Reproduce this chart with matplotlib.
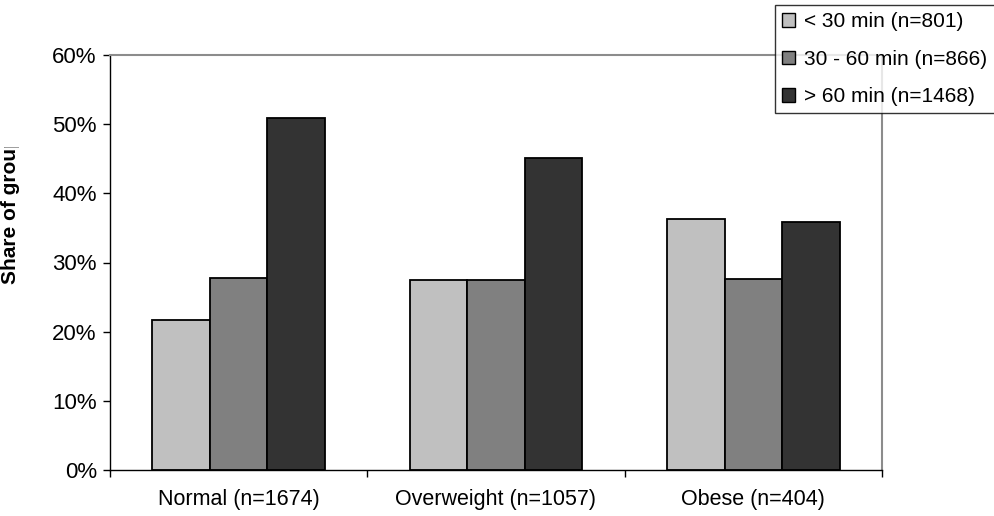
import matplotlib
matplotlib.use('Agg')
import matplotlib.pyplot as plt
import numpy as np
from matplotlib.patches import Patch
from matplotlib.transforms import Bbox, TransformedBbox
from matplotlib.ticker import FixedLocator, PercentFormatter

plt.rcParams['font.family'] = ['Liberation Sans', 'DejaVu Sans']

# data
groups = ['Normal (n=1674)', 'Overweight (n=1057)', 'Obese (n=404)']
series = ['< 30 min (n=801)', '30 - 60 min (n=866)', '> 60 min (n=1468)']
short_commute = [21.7, 27.4, 36.3]
mid_commute = [27.8, 27.4, 27.6]
long_commute = [50.9, 45.1, 35.8]
colors = ['#c0c0c0', '#808080', '#333333']

fig = plt.figure(figsize=(9.95, 5.16), dpi=100)
ax = fig.add_axes([110/995, 46/516, 772/995, 415/516])

x = np.arange(len(groups))
w = 0.2235
for i, (vals, c) in enumerate(zip([short_commute, mid_commute, long_commute], colors)):
    ax.bar(x + (i - 1) * w, vals, width=w, color=c, edgecolor='black', linewidth=1.3)

ax.set_xlim(-0.5, 2.5)
ax.set_ylim(0, 60)
ax.set_yticks(np.arange(0, 61, 10))
ax.yaxis.set_major_formatter(PercentFormatter(decimals=0))
ax.tick_params(axis='y', direction='out', length=5, width=1, pad=4.5, labelsize=16)

ax.set_xticks(x)
ax.set_xticklabels(groups)
ax.tick_params(axis='x', which='major', length=0, pad=14, labelsize=15.5)
ax.xaxis.set_minor_locator(FixedLocator([-0.5, 0.5, 1.5, 2.5]))
ax.tick_params(axis='x', which='minor', direction='out', length=5, width=1)

ax.spines['left'].set_color('black')
ax.spines['bottom'].set_color('black')
ax.spines['left'].set_linewidth(1)
ax.spines['bottom'].set_linewidth(1)
ax.spines['top'].set_color('#8c8c8c')
ax.spines['right'].set_color('#8c8c8c')
ax.spines['top'].set_linewidth(1.5)
ax.spines['right'].set_linewidth(1.5)

# y label, cut off at the top like in the original
lab = fig.text(11/995, 1 - 209/516, 'Share of group', rotation=90, ha='center', va='center',
               fontsize=15, fontweight='bold')
lab.set_clip_box(TransformedBbox(Bbox([[0, 0], [1, 1 - 147/516]]), fig.transFigure))
lab.set_clip_on(True)

# legend box runs off the top and right edge of the figure
handles = [Patch(facecolor=c, edgecolor='black', linewidth=1) for c in colors]
leg = fig.legend(handles, series, loc='upper left', mode='expand',
                 bbox_to_anchor=(775/995, 0, 240/995, 0.99),
                 frameon=True, fancybox=False, edgecolor='black', fontsize=15,
                 handlelength=0.62, handleheight=0.62, handletextpad=0.4,
                 labelspacing=0.88, borderpad=0.35, borderaxespad=0)
leg.get_frame().set_linewidth(1)

fig.savefig('out.png', dpi=100)
